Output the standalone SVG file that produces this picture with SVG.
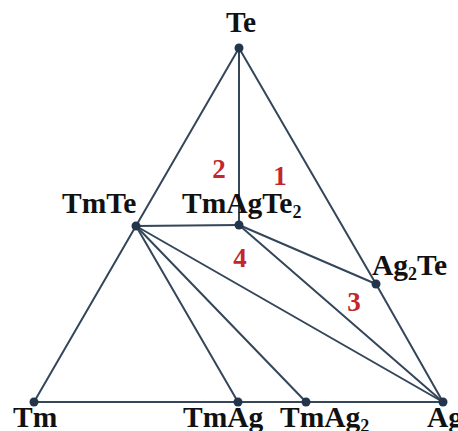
<svg xmlns="http://www.w3.org/2000/svg" width="458" height="431" viewBox="0 0 458 431">
<style>
.ln{stroke:#34465a;stroke-width:2;fill:none;stroke-linecap:round}
.dot{fill:#23354a}
.lbl{font-family:"Liberation Serif","Times New Roman",serif;font-weight:bold;font-size:29.5px;fill:#111}
.sub{font-size:18px}
.num{font-family:"Liberation Serif","Times New Roman",serif;font-weight:bold;font-size:27px;fill:#c1272d;text-anchor:middle}
</style>
<rect width="458" height="431" fill="#ffffff"/>
<g id="connectors">
<line class="ln" x1="34" y1="402" x2="239" y2="48"/>
<line class="ln" x1="239" y1="48" x2="376" y2="284"/>
<line class="ln" x1="376" y1="284" x2="443" y2="402"/>
<line class="ln" x1="34" y1="402" x2="443" y2="402"/>
<line class="ln" x1="239" y1="48" x2="239" y2="225"/>
<line class="ln" x1="136" y1="226" x2="239" y2="225"/>
<line class="ln" x1="136" y1="226" x2="238" y2="402"/>
<line class="ln" x1="136" y1="226" x2="306" y2="402"/>
<line class="ln" x1="136" y1="226" x2="443" y2="402"/>
<line class="ln" x1="239" y1="225" x2="376" y2="284"/>
<line class="ln" x1="239" y1="225" x2="443" y2="402"/>
</g>
<g id="Te"><circle class="dot" cx="239" cy="48" r="4.5"/><text class="lbl" x="241" y="32" text-anchor="middle">Te</text></g>
<g id="TmTe"><circle class="dot" cx="136" cy="226" r="4.5"/><text class="lbl" x="62" y="213">TmTe</text></g>
<g id="TmAgTe2"><circle class="dot" cx="239" cy="225" r="4.5"/><text class="lbl" x="182" y="213">TmAgTe<tspan class="sub" dy="5">2</tspan></text></g>
<g id="Ag2Te"><circle class="dot" cx="376" cy="284" r="4.5"/><text class="lbl" x="372" y="275">Ag<tspan class="sub" dy="5">2</tspan><tspan dy="-5">Te</tspan></text></g>
<g id="Tm"><circle class="dot" cx="34" cy="402" r="4.5"/><text class="lbl" x="13" y="427">Tm</text></g>
<g id="TmAg"><circle class="dot" cx="238" cy="402" r="4.5"/><text class="lbl" x="183" y="427">TmAg</text></g>
<g id="TmAg2"><circle class="dot" cx="306" cy="402" r="4.5"/><text class="lbl" x="280" y="427">TmAg<tspan class="sub" dy="5">2</tspan></text></g>
<g id="Ag"><circle class="dot" cx="443" cy="402" r="4.5"/><text class="lbl" x="427" y="427">Ag</text></g>
<g id="regions">
<text class="num" x="280" y="185">1</text>
<text class="num" x="219" y="178">2</text>
<text class="num" x="354" y="311">3</text>
<text class="num" x="240" y="267">4</text>
</g>
</svg>
